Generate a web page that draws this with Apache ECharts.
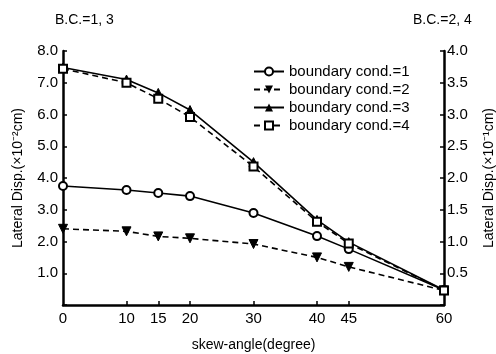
<!DOCTYPE html>
<html>
<head>
<meta charset="utf-8">
<script src="https://cdn.jsdelivr.net/npm/echarts@6/dist/echarts.min.js"></script>
<style>html,body{margin:0;padding:0;background:#fff}#c{width:496px;height:354px}</style>
</head>
<body>
<div id="c"></div>
<script>
var angles = [0, 10, 15, 20, 30, 40, 45, 60];
var xTickLabels = [0, 10, 15, 20, 30, 40, 45, 60];
var bc1 = [3.75, 3.62, 3.53, 3.43, 2.9, 2.17, 1.76, 0.47];   // left axis (x10^-2 cm)
var bc2 = [1.2, 1.16, 1.08, 1.05, 0.96, 0.75, 0.6, 0.23];     // right axis (x10^-1 cm)
var bc3 = [7.48, 7.1, 6.68, 6.14, 4.5, 2.68, 1.98, 0.47];     // left axis
var bc4 = [3.72, 3.5, 3.25, 2.96, 2.18, 1.31, 0.97, 0.23];    // right axis
var seriesNames = ['boundary cond.=1', 'boundary cond.=2', 'boundary cond.=3', 'boundary cond.=4'];

function pairs(v){ return angles.map(function(a,i){ return [a, v[i]]; }); }
var FONT = 'Liberation Sans';
var chart = echarts.init(document.getElementById('c'), null, {renderer:'canvas'});
var lineBase = function(dashed){ return {color:'#000', width:1.6, type: dashed ? [6,4] : 'solid'}; };
chart.setOption({
  animation:false,
  backgroundColor:'#fff',
  textStyle:{fontFamily:FONT, color:'#000'},
  title:[
    {text:'B.C.=1, 3', left:50, top:8, textStyle:{fontSize:14, fontWeight:'normal', color:'#000', fontFamily:FONT}},
    {text:'B.C.=2, 4', left:408, top:8, textStyle:{fontSize:14, fontWeight:'normal', color:'#000', fontFamily:FONT}}
  ],
  legend:{
    orient:'vertical', left:248, top:59, itemWidth:30, itemHeight:10, itemGap:3,
    textStyle:{fontSize:15, color:'#000', fontFamily:FONT},
    data:seriesNames
  },
  grid:{left:63, right:52, top:51, bottom:49, containLabel:false, outerBoundsMode:'none'},
  xAxis:{
    type:'value', min:0, max:60,
    name:'skew-angle(degree)', nameLocation:'middle', nameGap:33,
    nameTextStyle:{fontSize:14, color:'#000'},
    axisLine:{lineStyle:{color:'#000', width:2.5}},
    axisTick:{show:true, inside:true, length:4, customValues:[10,15,20,30,40,45], lineStyle:{color:'#000', width:1.5}},
    axisLabel:{customValues:xTickLabels, fontSize:15, color:'#000', margin:6},
    splitLine:{show:false}
  },
  yAxis:[
    {
      type:'value', min:0, max:8, interval:1, position:'left',
      name:'Lateral Disp.(×10⁻²cm)', nameLocation:'middle', nameGap:38, nameRotate:90,
      nameTextStyle:{fontSize:14, color:'#000'},
      axisLine:{show:true, lineStyle:{color:'#000', width:2.5}},
      axisTick:{show:true, inside:true, length:4, lineStyle:{color:'#000', width:1.5}},
      axisLabel:{fontSize:15, color:'#000', margin:5, formatter:function(v){ return v===0 ? '' : v.toFixed(1); }},
      splitLine:{show:false}
    },
    {
      type:'value', min:0, max:4, interval:0.5, position:'right',
      name:'Lateral Disp.(×10⁻¹cm)', nameLocation:'middle', nameGap:38, nameRotate:90,
      nameTextStyle:{fontSize:14, color:'#000'},
      axisLine:{show:true, lineStyle:{color:'#000', width:2.5}},
      axisTick:{show:true, inside:true, length:4, lineStyle:{color:'#000', width:1.5}},
      axisLabel:{fontSize:15, color:'#000', margin:3, formatter:function(v){ return v===0 ? '' : v.toFixed(1); }},
      splitLine:{show:false}
    }
  ],
  series:[
    {name:seriesNames[0], type:'line', yAxisIndex:0, data:pairs(bc1), symbol:'emptyCircle', symbolSize:8,
     lineStyle:lineBase(false), itemStyle:{color:'#000', borderColor:'#000', borderWidth:1.6}},
    {name:seriesNames[1], type:'line', yAxisIndex:1, data:pairs(bc2), symbol:'triangle', symbolRotate:180, symbolSize:9,
     lineStyle:lineBase(true), itemStyle:{color:'#000', borderColor:'#000'}},
    {name:seriesNames[2], type:'line', yAxisIndex:0, data:pairs(bc3), symbol:'triangle', symbolSize:9,
     lineStyle:lineBase(false), itemStyle:{color:'#000', borderColor:'#000'}},
    {name:seriesNames[3], type:'line', yAxisIndex:1, data:pairs(bc4), symbol:'emptyRect', symbolSize:8,
     lineStyle:lineBase(true), itemStyle:{color:'#000', borderColor:'#000', borderWidth:1.6}}
  ]
});
</script>
</body>
</html>
